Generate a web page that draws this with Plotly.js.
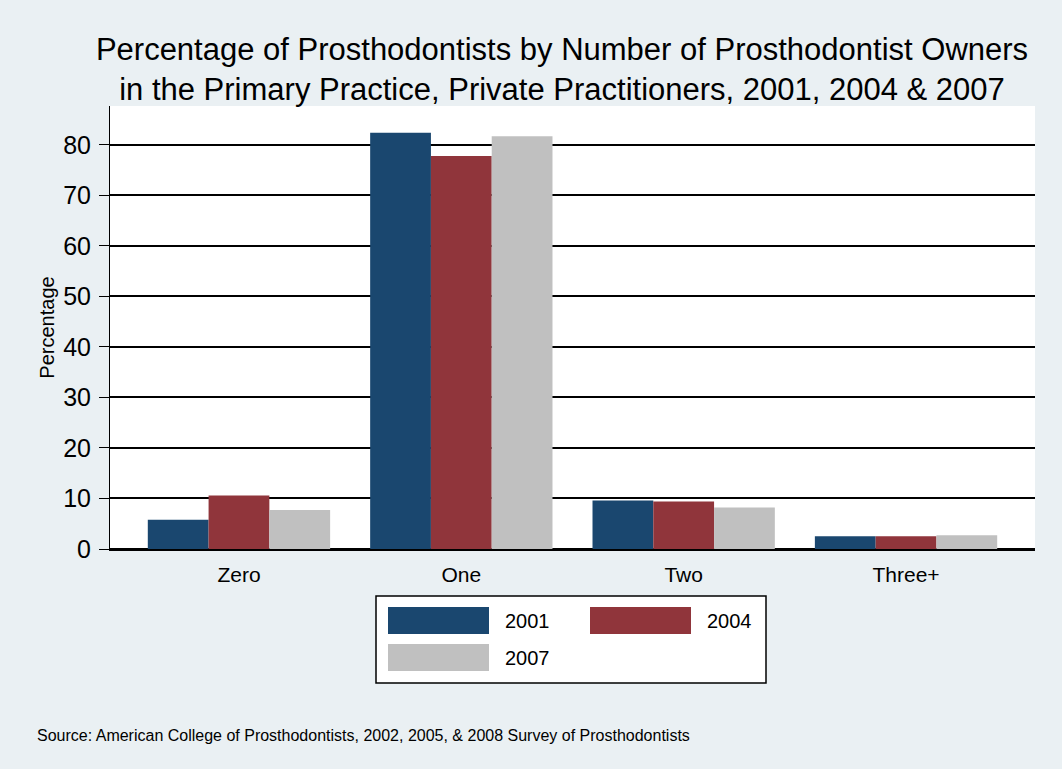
<!DOCTYPE html>
<html>
<head>
<meta charset="utf-8">
<script src="https://cdn.plot.ly/plotly-3.0.1.min.js"></script>
<style>html,body{margin:0;padding:0;background:#eaf0f3;}#chart{width:1062px;height:769px;}</style>
</head>
<body>
<div id="chart"></div>
<script>
const categories = ["Zero", "One", "Two", "Three+"];
const seriesNames = ["2001", "2004", "2007"];
const values2001 = [5.8, 82.4, 9.6, 2.5];
const values2004 = [10.6, 77.8, 9.4, 2.5];
const values2007 = [7.7, 81.7, 8.2, 2.7];
const colors = ["#1a476f", "#90353b", "#c0c0c0"];
const yTicks = [0, 10, 20, 30, 40, 50, 60, 70, 80];

const W = 1062, H = 769;
const M = {l: 110, r: 27, t: 106, b: 220};
const PW = W - M.l - M.r, PH = H - M.t - M.b;
const px = x => (x - M.l) / PW;
const py = y => (H - M.b - y) / PH;

const allVals = [values2001, values2004, values2007];
const traces = allVals.map((v, i) => ({
  type: 'bar', x: categories, y: v, name: seriesNames[i],
  marker: {color: colors[i], line: {width: 0}}, showlegend: false
}));

// manual Stata-style legend
const shapes = [{type: 'rect', xref: 'paper', yref: 'paper', x0: px(376), x1: px(766), y0: py(596), y1: py(683),
  fillcolor: '#ffffff', line: {color: '#000000', width: 1.5}}];
const annotations = [];
const legendPos = [[388, 607], [590, 607], [388, 644]];
seriesNames.forEach((n, i) => {
  const [lx, ly] = legendPos[i];
  shapes.push({type: 'rect', xref: 'paper', yref: 'paper', x0: px(lx), x1: px(lx + 101), y0: py(ly), y1: py(ly + 27),
    fillcolor: colors[i], line: {width: 0}});
  annotations.push({xref: 'paper', yref: 'paper', x: px(lx + 115), y: py(ly + 14), text: n, showarrow: false,
    xanchor: 'left', yanchor: 'middle', font: {size: 20, color: '#000'}});
});
annotations.push({xref: 'paper', yref: 'paper', x: px(35), y: py(735), text: 'Source: American College of Prosthodontists, 2002, 2005, & 2008 Survey of Prosthodontists',
  showarrow: false, xanchor: 'left', yanchor: 'middle', font: {size: 16, color: '#000'}});

const layout = {
  width: W, height: H,
  paper_bgcolor: '#eaf0f3', plot_bgcolor: '#ffffff',
  font: {family: 'Liberation Sans, Arial, sans-serif', color: '#000'},
  margin: M,
  title: {text: 'Percentage of Prosthodontists by Number of Prosthodontist Owners<br>in the Primary Practice, Private Practitioners, 2001, 2004 & 2007',
    x: 562 / W, xanchor: 'center', y: 1 - 60 / H, yanchor: 'top', font: {size: 31, color: '#000'}},
  barmode: 'group', bargap: 0.18, bargroupgap: 0,
  xaxis: {range: [-0.58, 3.58], showgrid: false, ticks: '', showline: true, linecolor: '#000', linewidth: 2,
    tickfont: {size: 21}, ticklabelstandoff: 6},
  yaxis: {range: [0, 87.7], tickvals: yTicks, ticks: 'outside', ticklen: 10, tickcolor: '#000', tickwidth: 1,
    showgrid: true, gridcolor: '#000', gridwidth: 2, zeroline: true, zerolinecolor: '#000', zerolinewidth: 2,
    showline: true, linecolor: '#000', linewidth: 1, tickfont: {size: 25}, ticklabelstandoff: 3,
    title: {text: 'Percentage', font: {size: 20}, standoff: 3}},
  shapes: shapes, annotations: annotations
};

Plotly.newPlot('chart', traces, layout, {displayModeBar: false});
</script>
</body>
</html>
